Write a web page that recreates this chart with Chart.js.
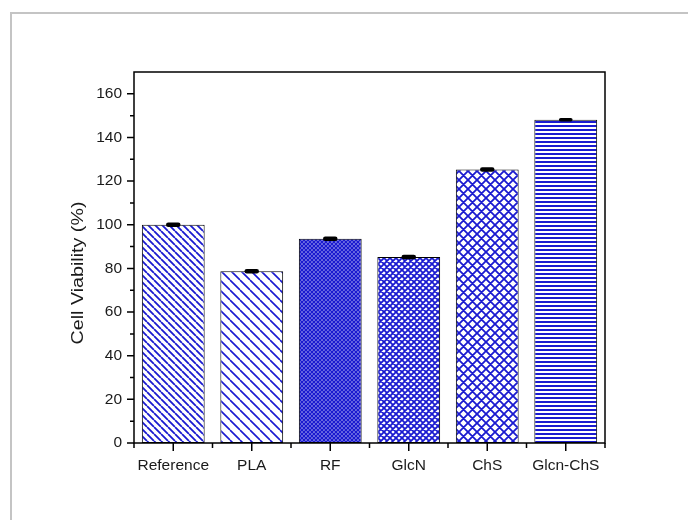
<!DOCTYPE html>
<html>
<head>
<meta charset="utf-8">
<script src="https://cdn.jsdelivr.net/npm/chart.js@4.4.1/dist/chart.umd.min.js"></script>
<style>
    html, body { margin: 0; padding: 0; background: #fff; }
    #wrap { position: relative; width: 688px; height: 520px; overflow: hidden; }
    #frame {
        position: absolute; left: 10px; top: 12px;
        width: 720px; height: 560px;
        border: 2px solid #c4c4c4; box-sizing: border-box;
    }
    #chart { position: absolute; left: 0; top: 0; }
</style>
</head>
<body>
<div id="wrap">
    <div id="frame"></div>
    <canvas id="chart" width="688" height="520"></canvas>
</div>
<script>
// --- data ---
const categories = ['Reference', 'PLA', 'RF', 'GlcN', 'ChS', 'Glcn-ChS'];
const viability = [100, 78.7, 93.6, 85.2, 125.3, 148.1];
const viabilityErr = [0.8, 0.8, 0.8, 0.8, 0.8, 0.6];
const yTicks = [0, 20, 40, 60, 80, 100, 120, 140, 160];
const yMinorTicks = [10, 30, 50, 70, 90, 110, 130, 150];
const yAxisTitle = 'Cell Viability (%)';

const BLUE = '#1a1ad0';
const FONT = '"Liberation Sans", Arial, sans-serif';

/* --- hatch patterns (one per bar) --- */
function makePattern(type, size, lw) {
    const c = document.createElement('canvas');
    c.width = size; c.height = size;
    const g = c.getContext('2d');
    g.fillStyle = '#fff';
    g.fillRect(0, 0, size, size);
    g.strokeStyle = BLUE;
    g.lineWidth = lw;
    g.beginPath();
    if (type === 'back' || type === 'cross') {
        for (let k = -1; k <= 1; k++) {
            g.moveTo(k * size, 0);
            g.lineTo(k * size + size, size);
        }
    }
    if (type === 'fwd' || type === 'cross') {
        for (let k = -1; k <= 1; k++) {
            g.moveTo(k * size, size);
            g.lineTo(k * size + size, 0);
        }
    }
    if (type === 'horiz') {
        g.moveTo(0, size / 2);
        g.lineTo(size, size / 2);
    }
    g.stroke();
    return g.createPattern(c, 'repeat');
}

const patterns = [
    makePattern('back', 7, 1.8),
    makePattern('back', 10, 1.6),
    makePattern('cross', 4, 1.6),
    makePattern('cross', 6, 1.8),
    makePattern('cross', 9, 1.8),
    makePattern('horiz', 4, 2)
];

/* --- frame, ticks, error bars and axis title --- */
const decorPlugin = {
    id: 'decor',
    afterDatasetsDraw(chart) {
        const ctx = chart.ctx;
        const area = chart.chartArea;
        const xs = chart.scales.x;
        const ys = chart.scales.y;
        const meta = chart.getDatasetMeta(0);

        ctx.save();
        // error bars
        ctx.strokeStyle = '#000';
        ctx.lineCap = 'round';
        meta.data.forEach((bar, i) => {
            const top = ys.getPixelForValue(viability[i] + viabilityErr[i]);
            const bot = ys.getPixelForValue(viability[i] - viabilityErr[i]);
            ctx.lineWidth = Math.max(3, bot - top + 1);
            ctx.beginPath();
            ctx.moveTo(bar.x - 5, (top + bot) / 2);
            ctx.lineTo(bar.x + 5, (top + bot) / 2);
            ctx.stroke();
        });

        // plot frame
        ctx.lineCap = 'butt';
        ctx.lineWidth = 1.5;
        ctx.strokeRect(area.left, area.top, area.right - area.left, area.bottom - area.top);

        // y ticks (outward)
        ctx.beginPath();
        yTicks.forEach(v => {
            const y = ys.getPixelForValue(v);
            ctx.moveTo(area.left - 7, y);
            ctx.lineTo(area.left, y);
        });
        yMinorTicks.forEach(v => {
            const y = ys.getPixelForValue(v);
            ctx.moveTo(area.left - 4, y);
            ctx.lineTo(area.left, y);
        });
        // x ticks: major at categories, minor at boundaries
        categories.forEach((c, i) => {
            const x = xs.getPixelForValue(i);
            ctx.moveTo(x, area.bottom);
            ctx.lineTo(x, area.bottom + 8);
        });
        for (let i = 0; i <= categories.length; i++) {
            const x = xs.getPixelForValue(i - 0.5);
            ctx.moveTo(x, area.bottom);
            ctx.lineTo(x, area.bottom + 5);
        }
        ctx.stroke();

        // y axis title (the original text is drawn a little stretched)
        ctx.fillStyle = '#1a1a1a';
        ctx.font = '16px ' + FONT;
        ctx.textAlign = 'center';
        ctx.textBaseline = 'middle';
        ctx.translate(79, 273);
        ctx.rotate(-Math.PI / 2);
        ctx.scale(1.23, 1);
        ctx.fillText(yAxisTitle, 0, 0);
        ctx.restore();
    }
};

const chart = new Chart(document.getElementById('chart'), {
    type: 'bar',
    data: {
        labels: categories,
        datasets: [{
            data: viability,
            backgroundColor: patterns,
            borderColor: '#000',
            borderWidth: 1,
            borderSkipped: false,
            barPercentage: 0.8,
            categoryPercentage: 1
        }]
    },
    options: {
        responsive: false,
        animation: false,
        layout: { padding: { top: 72, right: 83, left: 0, bottom: 0 } },
        plugins: { legend: { display: false }, tooltip: { enabled: false } },
        scales: {
            x: {
                grid: { display: false },
                border: { display: false },
                ticks: { color: '#1a1a1a', font: { family: FONT, size: 15.5 }, padding: 5, maxRotation: 0 },
                afterFit(scale) { scale.height = 77; }
            },
            y: {
                min: 0,
                max: 170,
                grid: { display: false },
                border: { display: false },
                ticks: { color: '#1a1a1a', font: { family: FONT, size: 15.5 }, padding: 4 },
                afterBuildTicks(scale) { scale.ticks = yTicks.map(v => ({ value: v })); },
                afterFit(scale) { scale.width = 134; }
            }
        }
    },
    plugins: [decorPlugin]
});
</script>
</body>
</html>
